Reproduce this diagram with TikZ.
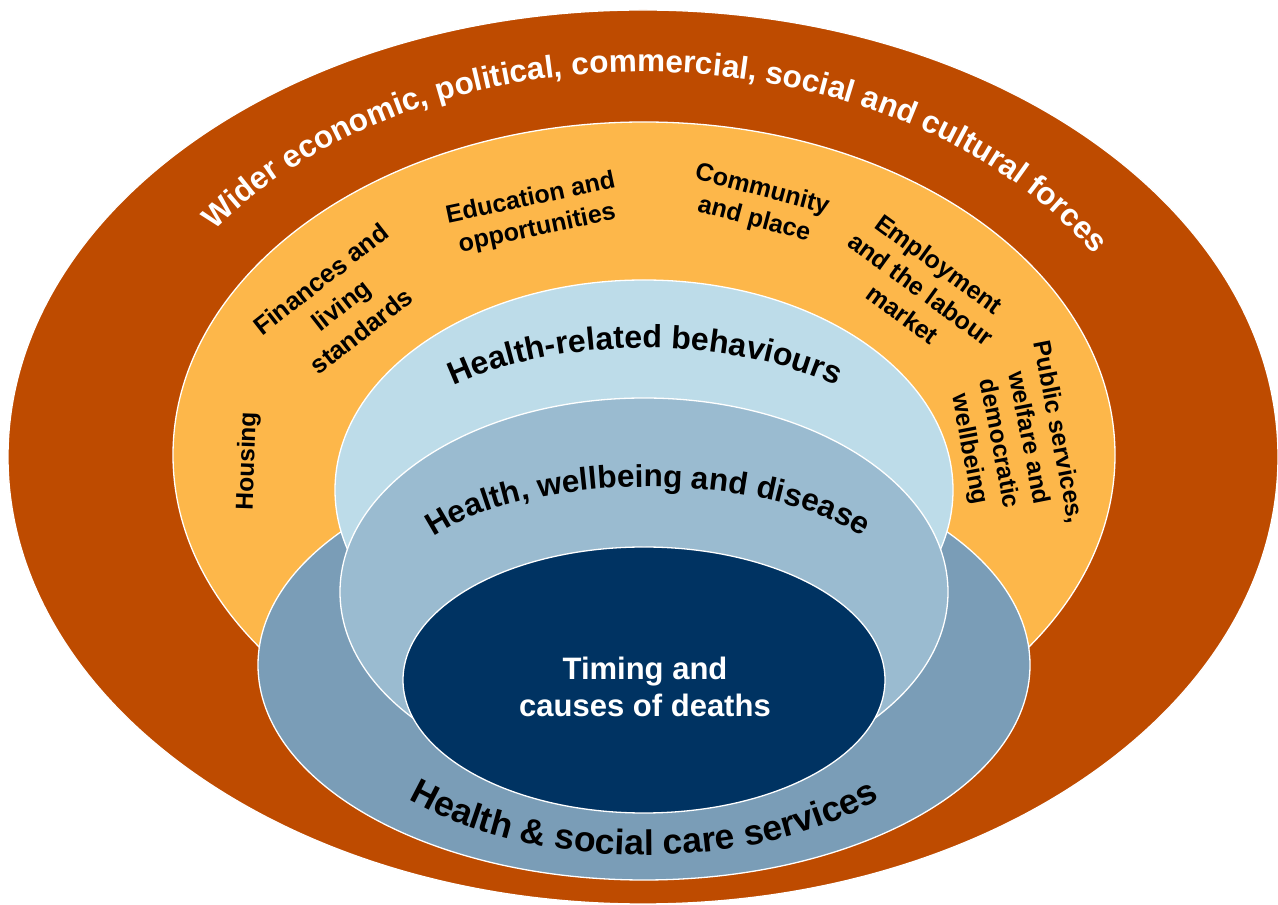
\documentclass[tikz,border=0pt]{standalone}
\usepackage{fontspec}
\setmainfont{Liberation Sans}
\usetikzlibrary{decorations.text}
\definecolor{cBrown}{RGB}{190,75,0}
\definecolor{cOrange}{RGB}{253,183,74}
\definecolor{cLight}{RGB}{189,220,233}
\definecolor{cMid}{RGB}{154,187,208}
\definecolor{cSteel}{RGB}{122,157,183}
\definecolor{cNavy}{RGB}{0,51,98}
\begin{document}
\begin{tikzpicture}[x=1pt,y=1pt,
  ring/.style={draw=white,line width=1.3pt},
  lab/.style={font=\bfseries\fontsize{25}{31}\selectfont,align=center,inner sep=0pt,text=black},
  arctext/.style={decorate,decoration={text along path,text align=center,text color=#1}}]
\useasboundingbox (0,0) rectangle (1278,905);
% rings
\path[ring,fill=cBrown] (643,448) ellipse [x radius=635pt,y radius=447pt];
\path[ring,fill=cOrange] (644,450) ellipse [x radius=471pt,y radius=333pt];
\path[ring,fill=cSteel] (644,240) ellipse [x radius=386pt,y radius=215pt];
\path[ring,fill=cLight] (644,415) ellipse [x radius=309pt,y radius=210pt];
\path[ring,fill=cMid] (644,313) ellipse [x radius=304pt,y radius=194pt];
\path[ring,fill=cNavy] (644,225) ellipse [x radius=241pt,y radius=133pt];
% curved labels
\path[arctext=white,decoration={text={|\fontsize{31.5}{31.5}\selectfont\bfseries|Wider economic, political, commercial, social and cultural forces}}]
  (643,448) ++(150:530pt and 385pt) arc[start angle=150,end angle=25.5,x radius=530pt,y radius=385pt];
\path[arctext=black,decoration={text={|\fontsize{32}{32}\selectfont\bfseries|Health-related behaviours}}]
  (645,415) ++(150:282pt and 142pt) arc[start angle=150,end angle=30,x radius=282pt,y radius=142pt];
\path[arctext=black,decoration={text={|\fontsize{31.5}{31.5}\selectfont\bfseries|Health, wellbeing and disease}}]
  (648,313) ++(160:252pt and 105pt) arc[start angle=160,end angle=20,x radius=252pt,y radius=105pt];
\path[arctext=black,decoration={text={|\fontsize{35.5}{35.5}\selectfont\bfseries|Health {\&} social care services}}]
  (644,240) ++(215:334pt and 190pt) arc[start angle=215,end angle=325,x radius=334pt,y radius=190pt];
% straight labels in the orange ring
\node[lab,font=\bfseries\fontsize{24.5}{30}\selectfont,rotate=88] (housing) at (248,444) {Housing};
\node[lab,font=\bfseries\fontsize{25.5}{33}\selectfont,rotate=38] (finances) at (341,600) {Finances and\\living\\standards};
\node[lab,rotate=12] (education) at (534,691) {Education and\\opportunities};
\node[lab,rotate=-15] (community) at (758,700) {Community\\and place};
\node[lab,rotate=-36] (employment) at (921,616) {Employment\\and the labour\\market};
\node[lab,font=\bfseries\fontsize{24.5}{30}\selectfont,rotate=-79] (public) at (1013,464) {Public services,\\welfare and\\democratic\\wellbeing};
% centre
\node[font=\bfseries\fontsize{31}{37}\selectfont,text=white,anchor=base,inner sep=0pt] (timing1) at (645,225) {Timing and};
\node[font=\bfseries\fontsize{31}{37}\selectfont,text=white,anchor=base,inner sep=0pt] (timing2) at (645,188) {causes of deaths};
\end{tikzpicture}
\end{document}
